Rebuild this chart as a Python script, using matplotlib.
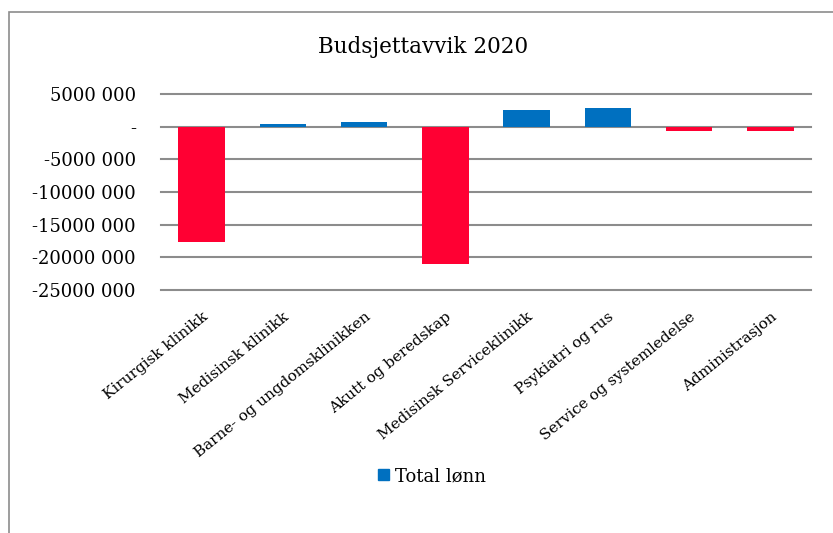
import numpy as np
import matplotlib
matplotlib.use("Agg")
import matplotlib.pyplot as plt
from matplotlib.patches import Rectangle, Patch

# avvik per klinikk, total lønn
klinikker = ["Kirurgisk klinikk", "Medisinsk klinikk", "Barne- og ungdomsklinikken",
             "Akutt og beredskap", "Medisinsk Serviceklinikk", "Psykiatri og rus",
             "Service og systemledelse", "Administrasjon"]
avvik = [-17600000, 450000, 750000, -20950000, 2600000, 2900000, -700000, -650000]
yticks = [5000000, 0, -5000000, -10000000, -15000000, -20000000, -25000000]

blaa = "#0070C0"
roed = "#FF0033"
grid_farge = "#8C8C8C"

plt.rcParams['font.family'] = 'DejaVu Serif'


def kr_format(v):
    # Excel-aktig format: "-" for null, mellomrom før siste tre siffer
    v = int(v)
    if v == 0:
        return "-"
    s = str(abs(v))
    s = s[:-3] + " " + s[-3:]
    return ("-" if v < 0 else "") + s


W, H = 833, 533
fig = plt.figure(figsize=(W / 100, H / 100), dpi=100)
ax = fig.add_axes([161 / W, 1 - 290 / H, (811 - 161) / W, (290 - 94) / H])

x = np.arange(len(klinikker))
farger = [blaa if v >= 0 else roed for v in avvik]
ax.bar(x, avvik, width=0.57, color=farger, zorder=3)

ax.set_xlim(-0.5, len(klinikker) - 0.5)
ax.set_ylim(min(yticks), max(yticks))
ax.set_yticks(yticks)
ax.set_yticklabels([kr_format(v) for v in yticks])
ax.set_xticks(x)
ax.set_xticklabels(klinikker, rotation=39, ha='right', rotation_mode='anchor')
ax.tick_params(axis='y', length=0, pad=18, labelsize=13)
ax.tick_params(axis='x', length=0, pad=14, labelsize=11)

for v in yticks:
    ax.axhline(v, color=grid_farge, lw=1.5, zorder=1, clip_on=False)
for s in ax.spines.values():
    s.set_visible(False)

fig.text(423 / W, 1 - 47 / H, "Budsjettavvik 2020", ha='center', va='center', fontsize=15.5)

fig.legend(handles=[Patch(color=blaa, label="Total lønn")], loc='center',
           bbox_to_anchor=(432 / W, 1 - 476 / H), frameon=False, fontsize=13,
           handlelength=0.6, handleheight=0.6, handletextpad=0.3)

# ramme rundt diagrammet
fig.patches.append(Rectangle((9 / W, -0.1), 1.2, 1.1 - 12 / H, transform=fig.transFigure,
                             fill=False, edgecolor="#8C8C8C", lw=1.2))

fig.savefig("out.png", dpi=100)
